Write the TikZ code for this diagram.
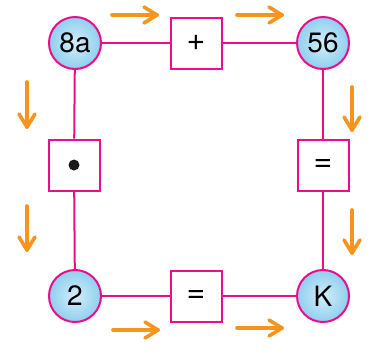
\documentclass[tikz,border=0pt]{standalone}
\usepackage{fontspec}
\setmainfont{TeX Gyre Heros}
\definecolor{pinkc}{HTML}{EC0C8C}
\definecolor{orangec}{HTML}{F7941D}
\definecolor{bluein}{HTML}{D4EEFA}
\definecolor{blueout}{HTML}{8FCFEF}
\tikzset{
  circ/.style={circle, draw=pinkc, line width=2pt, inner color=bluein, outer color=blueout, minimum size=52pt, inner sep=0pt, font=\fontsize{28}{28}\selectfont},
  sq/.style={rectangle, draw=pinkc, line width=2pt, fill=white, minimum size=51pt, inner sep=0pt, font=\fontsize{32}{32}\selectfont},
  link/.style={pinkc, line width=2pt},
  oarrow/.style={orangec, line width=3.6pt, line cap=round, line join=round}
}
\newcommand{\harrow}[3]{% x1, x2, y  (rightward)
  \draw[oarrow] (#1,#3) -- (#2,#3);
  \draw[oarrow] (#2-13,#3-8) -- (#2,#3) -- (#2-13,#3+8);
}
\newcommand{\varrow}[3]{% x, y1, y2 (downward)
  \draw[oarrow] (#1,#2) -- (#1,#3);
  \draw[oarrow] (#1-8,#3-13) -- (#1,#3) -- (#1+8,#3-13);
}
\begin{document}
\begin{tikzpicture}[x=1pt,y=-1pt]
\useasboundingbox (0,0) rectangle (374,354);
\node[circ] (a) at (75,43) {8a};
\node[circ] (b) at (323,43) {56};
\node[circ] (c) at (75,296) {2};
\node[circ] (d) at (323,296) {K};
\node[sq] (p) at (196,43) {+};
\node[sq] (m) at (74,165) {};
\fill[black!90] (m.center) circle (5.5pt);
\node[sq] (e1) at (323,165) {=};
\node[sq] (e2) at (196,296) {=};
\draw[link] (a) -- (p) (p) -- (b);
\draw[link] (a) -- (m) (m) -- (c);
\draw[link] (b) -- (e1) (e1) -- (d);
\draw[link] (c) -- (e2) (e2) -- (d);
\harrow{112}{157}{15}
\harrow{237}{282}{15}
\harrow{113}{158}{330}
\harrow{237}{282}{328}
\varrow{27}{82}{127}
\varrow{27}{206}{250}
\varrow{352}{87}{130}
\varrow{352}{210}{253}
\end{tikzpicture}
\end{document}
